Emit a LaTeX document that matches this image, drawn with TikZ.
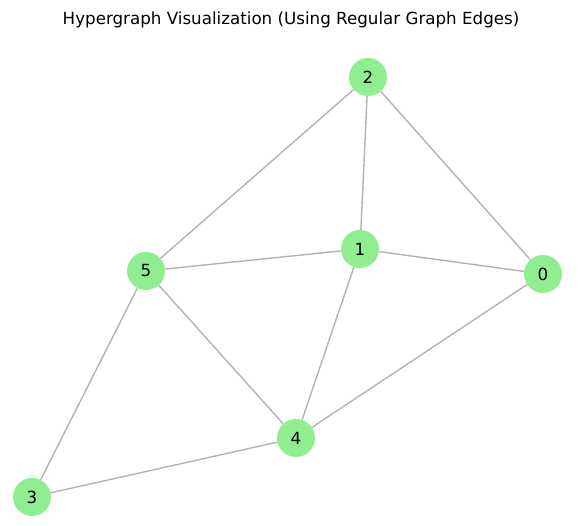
\documentclass[tikz,border=0pt]{standalone}
\usepackage{fontspec}
\setmainfont{DejaVu Sans}
\definecolor{nodegreen}{HTML}{90EE90}
\definecolor{edgegray}{HTML}{B3B3B3}
\begin{document}
\begin{tikzpicture}[x=1pt,y=1pt,
  vtx/.style={circle,fill=nodegreen,draw=none,minimum size=38pt,inner sep=0pt,font=\fontsize{16.7}{19}\selectfont},
  edge/.style={draw=edgegray,line width=1.4pt}]
\useasboundingbox (0,0) rectangle (582,526);
\node[font=\fontsize{16.7}{19}\selectfont] (title) at (291,506) {Hypergraph Visualization (Using Regular Graph Edges)};
\node[vtx] (n2) at (368,449) {2};
\node[vtx] (n1) at (360,277) {1};
\node[vtx] (n0) at (543,252) {0};
\node[vtx] (n5) at (146,255) {5};
\node[vtx] (n4) at (296,88) {4};
\node[vtx] (n3) at (32,29) {3};
\path[edge] (n2) -- (n5);
\path[edge] (n2) -- (n1);
\path[edge] (n2) -- (n0);
\path[edge] (n5) -- (n1);
\path[edge] (n1) -- (n0);
\path[edge] (n5) -- (n4);
\path[edge] (n1) -- (n4);
\path[edge] (n0) -- (n4);
\path[edge] (n5) -- (n3);
\path[edge] (n3) -- (n4);
\end{tikzpicture}
\end{document}
